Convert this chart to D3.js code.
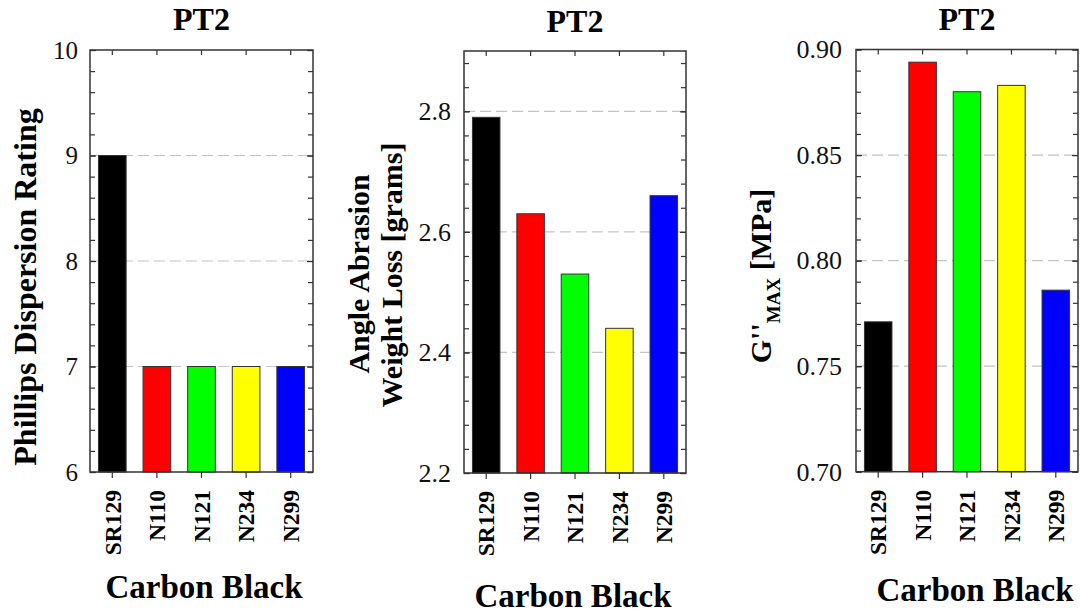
<!DOCTYPE html>
<html>
<head>
<meta charset="utf-8">
<script src="https://cdn.jsdelivr.net/npm/d3@7/dist/d3.min.js"></script>
<style>
  html, body { margin: 0; padding: 0; background: #fff; }
  svg, svg text { font-family: "Liberation Serif", "Times New Roman", Times, serif; }
  svg { display: block; }
</style>
</head>
<body>
<svg id="chart" width="1081" height="615"></svg>
<script>
// ---- data ----
const categories = ["SR129", "N110", "N121", "N234", "N299"];
const barColors = ["#000000", "#ff0000", "#00ff00", "#ffff00", "#0000ff"];
const dispersionRating = [9, 7, 7, 7, 7];
const abrasionLoss = [2.79, 2.63, 2.53, 2.44, 2.66];
const gMax = [0.771, 0.894, 0.880, 0.883, 0.786];
const dispersionTicks = [6, 7, 8, 9, 10];
const abrasionTicks = [2.2, 2.4, 2.6, 2.8];
const gMaxTicks = [0.70, 0.75, 0.80, 0.85, 0.90];
const panelTitle = "PT2";
const xTitle = "Carbon Black";

const svg = d3.select("#chart");

function drawPanel(cfg) {
  const g = svg.append("g");
  const x = d3.scaleBand().domain(categories).range([cfg.x0, cfg.x1])
    .paddingInner(0.38).paddingOuter(0.19);
  const y = d3.scaleLinear().domain(cfg.domain).range([cfg.y1, cfg.y0]);

  // gridlines
  g.append("g").selectAll("line")
    .data(cfg.ticks.filter(t => t > cfg.domain[0] + 1e-9 && t < cfg.domain[1] - 1e-9))
    .join("line")
    .attr("x1", cfg.x0).attr("x2", cfg.x1)
    .attr("y1", d => y(d)).attr("y2", d => y(d))
    .attr("stroke", "#c4c4c4").attr("stroke-width", 1.2)
    .attr("stroke-dasharray", "11,5");

  // bars
  g.append("g").selectAll("rect")
    .data(cfg.values)
    .join("rect")
    .attr("x", (d, i) => x(categories[i]))
    .attr("width", x.bandwidth())
    .attr("y", d => y(d))
    .attr("height", d => y(cfg.domain[0]) - y(d))
    .attr("fill", (d, i) => barColors[i])
    .attr("stroke", "#333")
    .attr("stroke-width", 1);

  // minor ticks
  const minor = d3.range(cfg.domain[0], cfg.domain[1] + cfg.minorStep / 2, cfg.minorStep);
  const leftMinor = g.append("g").attr("transform", `translate(${cfg.x0},0)`)
    .call(d3.axisLeft(y).tickValues(minor).tickSize(-5).tickFormat(""));
  const rightMinor = g.append("g").attr("transform", `translate(${cfg.x1},0)`)
    .call(d3.axisRight(y).tickValues(minor).tickSize(-5).tickFormat(""));
  // major ticks with labels
  const leftAxis = g.append("g").attr("transform", `translate(${cfg.x0},0)`)
    .call(d3.axisLeft(y).tickValues(cfg.ticks).tickSize(-6).tickPadding(cfg.tickPad).tickFormat(d3.format(cfg.fmt)));
  leftAxis.selectAll("text").attr("font-size", cfg.tickFont).attr("fill", "#111")
    .attr("font-family", null);
  const rightAxis = g.append("g").attr("transform", `translate(${cfg.x1},0)`)
    .call(d3.axisRight(y).tickValues(cfg.ticks).tickSize(-6).tickFormat(""));
  // top and bottom category ticks
  const topAxis = g.append("g").attr("transform", `translate(0,${cfg.y0})`)
    .call(d3.axisTop(x).tickSize(-5).tickFormat(""));
  const bottomAxis = g.append("g").attr("transform", `translate(0,${cfg.y1})`)
    .call(d3.axisBottom(x).tickSize(6).tickSizeOuter(0).tickPadding(18));
  bottomAxis.selectAll("text")
    .attr("font-size", 23.5).attr("font-weight", "bold").attr("fill", "#000")
    .attr("text-anchor", "end")
    .attr("transform", "rotate(-90)")
    .attr("x", -18).attr("y", 0).attr("dy", "0.35em");

  [leftMinor, rightMinor, leftAxis, rightAxis, topAxis, bottomAxis].forEach(a => {
    a.attr("font-family", null);
    a.select(".domain").remove();
    a.selectAll(".tick line").attr("stroke", "#333").attr("stroke-width", 1.2);
  });

  // frame
  g.append("rect")
    .attr("x", cfg.x0).attr("y", cfg.y0)
    .attr("width", cfg.x1 - cfg.x0).attr("height", cfg.y1 - cfg.y0)
    .attr("fill", "none").attr("stroke", "#333").attr("stroke-width", 1.5);

  // title
  g.append("text")
    .attr("x", (cfg.x0 + cfg.x1) / 2).attr("y", cfg.titleY)
    .attr("text-anchor", "middle").attr("font-size", 32).attr("font-weight", "bold")
    .text(panelTitle);

  // x title
  g.append("text")
    .attr("x", cfg.xTitleX).attr("y", cfg.xTitleY)
    .attr("text-anchor", "middle").attr("font-size", 33).attr("font-weight", "bold")
    .text(xTitle);

  // y title
  cfg.yLabel(g);
}

drawPanel({
  x0: 90, x1: 313, y0: 50, y1: 472,
  domain: [6, 10], ticks: dispersionTicks, minorStep: 0.2, fmt: "d",
  values: dispersionRating, tickFont: 25, tickPad: 12,
  titleY: 30, xTitleX: 204, xTitleY: 598,
  yLabel: g => {
    g.append("text")
      .attr("transform", "translate(36,287) rotate(-90)")
      .attr("text-anchor", "middle").attr("font-size", 32).attr("font-weight", "bold")
      .text("Phillips Dispersion Rating");
  }
});

drawPanel({
  x0: 464, x1: 686, y0: 51, y1: 473,
  domain: [2.2, 2.9], ticks: abrasionTicks, minorStep: 0.04, fmt: ".1f",
  values: abrasionLoss, tickFont: 26, tickPad: 13,
  titleY: 32, xTitleX: 573, xTitleY: 607,
  yLabel: g => {
    g.append("text")
      .attr("transform", "translate(369,274) rotate(-90)")
      .attr("text-anchor", "middle").attr("font-size", 30).attr("font-weight", "bold")
      .text("Angle Abrasion");
    g.append("text")
      .attr("transform", "translate(402,275) rotate(-90)")
      .attr("text-anchor", "middle").attr("font-size", 30).attr("font-weight", "bold")
      .text("Weight Loss [grams]");
  }
});

drawPanel({
  x0: 856, x1: 1078, y0: 49.5, y1: 471.7,
  domain: [0.70, 0.90], ticks: gMaxTicks, minorStep: 0.01, fmt: ".2f",
  values: gMax, tickFont: 26, tickPad: 14,
  titleY: 30, xTitleX: 975, xTitleY: 601,
  yLabel: g => {
    const t = g.append("text")
      .attr("transform", "translate(771,276) rotate(-90)")
      .attr("text-anchor", "middle").attr("font-size", 30).attr("font-weight", "bold");
    t.append("tspan").text("G''");
    t.append("tspan").attr("font-size", 19).attr("dy", 9).text("MAX");
    t.append("tspan").attr("dy", -9).text(" [MPa]");
  }
});
</script>
</body>
</html>
